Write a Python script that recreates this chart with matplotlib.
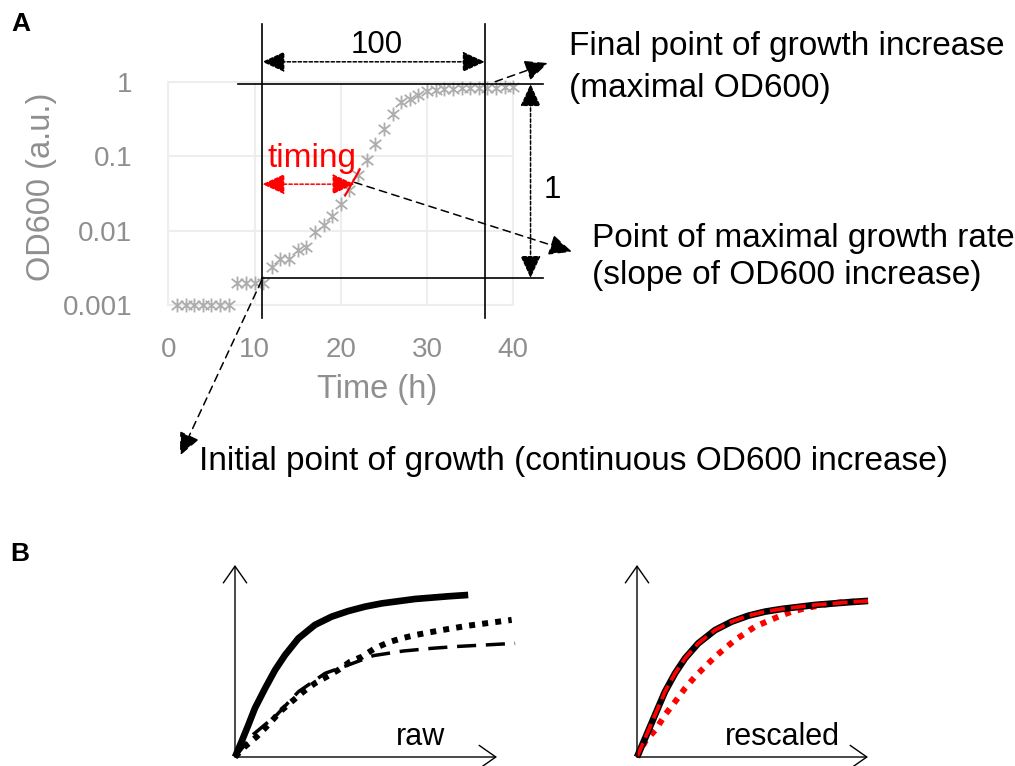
import matplotlib
matplotlib.use("Agg")
import matplotlib.pyplot as plt
from matplotlib.path import Path

plt.rcParams['font.family'] = ['Liberation Sans', 'DejaVu Sans']

W, H = 1015, 766

# panel A: OD600 growth curve
hours = list(range(1, 41))
od600 = [0.001, 0.001, 0.001, 0.001, 0.001, 0.001, 0.001,
         0.002, 0.002, 0.002, 0.002,
         0.0032, 0.0042, 0.0042, 0.0054, 0.006, 0.0095, 0.0117, 0.0158, 0.023,
         0.035, 0.056, 0.088, 0.145, 0.23, 0.37, 0.54, 0.58, 0.66, 0.76,
         0.78, 0.80, 0.81, 0.82, 0.82, 0.83, 0.83, 0.83, 0.84, 0.84]
x_ticks = [0, 10, 20, 30, 40]
y_ticks = [0.001, 0.01, 0.1, 1]
y_tick_labels = ["0.001", "0.01", "0.1", "1"]

# key points of the curve
t_start, od_start = 10.9, 0.0023
t_end, od_end = 36.7, 0.93
t_max = 21.6

# panel B: schematic curves
raw_solid_x = [0, 0.25, 0.51, 0.76, 1.15, 1.53, 1.91, 2.42, 3.05, 3.69, 4.32, 4.96, 5.60, 6.87, 8.14, 8.90]
raw_solid_y = [0, 0.80, 1.67, 2.54, 3.58, 4.53, 5.31, 6.18, 6.88, 7.31, 7.60, 7.83, 8.00, 8.23, 8.37, 8.44]
raw_dot_x = [0, 0.38, 0.83, 1.27, 1.72, 2.16, 2.61, 3.05, 3.50, 3.94, 4.39, 4.84, 5.34, 5.85, 6.36, 6.87, 7.89, 8.90, 10.56]
raw_dot_y = [0, 0.54, 1.06, 1.67, 2.36, 2.88, 3.40, 3.84, 4.18, 4.53, 4.96, 5.22, 5.66, 5.97, 6.18, 6.35, 6.61, 6.84, 7.14]
raw_dash_x = [0, 0.70, 1.59, 2.42, 3.44, 4.32, 5.28, 6.42, 7.51, 8.52, 10.69]
raw_dash_y = [0, 1.18, 2.19, 3.40, 4.36, 4.79, 5.28, 5.52, 5.66, 5.76, 5.92]
res_solid_x = [0, 0.35, 0.78, 1.21, 1.65, 2.08, 2.65, 3.38, 4.10, 4.82, 5.54, 6.26, 7.71, 9.15, 10.0]
res_solid_y = [0, 0.97, 2.19, 3.40, 4.36, 5.14, 5.92, 6.61, 7.05, 7.36, 7.57, 7.71, 7.92, 8.06, 8.13]
res_dot_x = [0, 0.35, 0.85, 1.21, 1.65, 2.08, 2.51, 2.94, 3.38, 3.81, 4.24, 4.68, 5.11, 5.61, 6.12, 6.70, 7.27, 8.00, 8.86, 10.0]
res_dot_y = [0, 0.80, 1.49, 2.19, 2.88, 3.58, 4.18, 4.70, 5.22, 5.66, 6.09, 6.44, 6.79, 7.05, 7.31, 7.57, 7.74, 7.92, 8.06, 8.13]


def box(l, t, r, b):
    return [l / W, 1 - b / H, (r - l) / W, (b - t) / H]


def ftext(px, py, s, **kw):
    fig.text(px / W, 1 - py / H, s, **kw)


fig = plt.figure(figsize=(W / 100, H / 100), dpi=100)

# ---- panel A
ax = fig.add_axes(box(168.3, 81.7, 513.3, 305))
ax.set_yscale('log')
ax.set_xlim(0, 40)
ax.set_ylim(0.001, 1)
ax.set_xticks(x_ticks)
ax.set_yticks(y_ticks)
ax.set_yticklabels(y_tick_labels)
ax.minorticks_off()
ax.grid(True, color='#eeeeee', lw=1.5)
ax.set_axisbelow(True)
for s in ax.spines.values():
    s.set_color('#eeeeee')
    s.set_linewidth(1.5)
ax.tick_params(length=0, labelsize=20, labelcolor='#8f8f8f')
ax.tick_params(axis='y', pad=26)
ax.tick_params(axis='x', pad=23)

star = Path([(-1, -0.8), (1, 0.8), (-1, 0.8), (1, -0.8), (0, -1.2), (0, 1.2)],
            [Path.MOVETO, Path.LINETO] * 3)
ax.plot(hours, od600, ls='none', marker=star, ms=10, mew=1.3,
        mec='#adadad', mfc='none', clip_on=False, zorder=3)

ax.text(-0.368, 0.53, 'OD600 (a.u.)', transform=ax.transAxes, rotation=90,
        ha='center', va='center', fontsize=23.5, color='#8f8f8f')
ftext(377, 398, 'Time (h)', ha='center', va='baseline', fontsize=23.5, color='#8f8f8f')

line_kw = dict(color='k', lw=1.2, clip_on=False, zorder=4)
ax.plot([t_start, t_start], [5.9, 0.00066], **line_kw)
ax.plot([t_end, t_end], [5.9, 0.00066], **line_kw)
ax.plot([8.1, 43.4], [od_end, od_end], **line_kw)
ax.plot([t_start, 43.4], [od_start, od_start], **line_kw)


def arrow(p0, p1, style, ls, color='k', lw=1.1):
    ax.annotate('', xy=p1, xytext=p0, annotation_clip=False,
                arrowprops=dict(arrowstyle=style, ls=ls, lw=lw, color=color,
                                shrinkA=0, shrinkB=0, mutation_scale=20),
                zorder=5)


both = '<|-|>,head_length=0.7,head_width=0.32'
one = '-|>,head_length=0.7,head_width=0.32'
dotted = (0, (2.2, 1.4))
dashed = (0, (5, 3.5))

# lag-to-plateau span and OD range
arrow((t_end, 1.85), (t_start, 1.85), both, dotted)
arrow((42.0, od_start), (42.0, od_end), both, dotted)
# timing to maximal growth rate
arrow((t_max, 0.042), (t_start, 0.042), both, dotted, color='#ff0000')
ax.plot([20.5, 22.2], [0.0295, 0.0665], color='#ff0000', lw=1.5, clip_on=False, zorder=5)

# pointers to the three key points
arrow((t_max, 0.0444), (46.8, 0.0052), one, dashed)
arrow((37.9, 1.0), (44.0, 1.78), one, dashed)
arrow((10.83, 0.00215), (1.36, 9.5e-6), one, dashed)

ftext(377, 53, '100', ha='center', va='baseline', fontsize=22.5)
ftext(552, 198, '1', ha='center', va='baseline', fontsize=22.5)
ftext(312, 167, 'timing', ha='center', va='baseline', fontsize=24, color='#ff0000')
ftext(569, 55, 'Final point of growth increase', va='baseline', fontsize=24)
ftext(569, 97, '(maximal OD600)', va='baseline', fontsize=24)
ftext(592, 247, 'Point of maximal growth rate', va='baseline', fontsize=24)
ftext(592, 284, '(slope of OD600 increase)', va='baseline', fontsize=24)
ftext(199, 470, 'Initial point of growth (continuous OD600 increase)', va='baseline', fontsize=24)

ftext(21, 31, 'A', ha='center', va='baseline', fontsize=19, fontweight='bold')
ftext(20, 561, 'B', ha='center', va='baseline', fontsize=19, fontweight='bold')

# ---- panel B
def schematic_axes(l, r):
    b_ax = fig.add_axes(box(l, 565, r, 757))
    b_ax.set_xlim(0, 10)
    b_ax.set_ylim(0, 10)
    b_ax.axis('off')
    akw = dict(arrowstyle='->,head_length=0.6,head_width=0.42', lw=1, color='k',
               shrinkA=0, shrinkB=0, mutation_scale=20)
    b_ax.annotate('', xy=(0, 1), xytext=(0, 0), xycoords='axes fraction', arrowprops=akw)
    b_ax.annotate('', xy=(1, 0), xytext=(0, 0), xycoords='axes fraction', arrowprops=akw)
    return b_ax


axr = schematic_axes(235, 497)
axr.plot(raw_solid_x, raw_solid_y, color='k', lw=4.8, solid_capstyle='butt',
         solid_joinstyle='round', clip_on=False)
axr.plot(raw_dot_x, raw_dot_y, color='k', lw=4.3, ls=(0, (1, 1.2)), dash_capstyle='butt', clip_on=False)
axr.plot(raw_dash_x, raw_dash_y, color='k', lw=2.5, ls=(0, (5.5, 2.8)), clip_on=False)
ftext(420, 745, 'raw', ha='center', va='baseline', fontsize=22)

axs = schematic_axes(637, 868)
axs.plot(res_dot_x, res_dot_y, color='#ff0000', lw=4.3, ls=(0, (1, 1.2)), dash_capstyle='butt', clip_on=False)
axs.plot(res_solid_x, res_solid_y, color='k', lw=4.8, solid_capstyle='butt',
         solid_joinstyle='round', clip_on=False)
axs.plot(res_solid_x, res_solid_y, color='#ff0000', lw=2.7, ls=(0, (4, 1.6)), clip_on=False)
ftext(782, 745, 'rescaled', ha='center', va='baseline', fontsize=22)

fig.savefig('out.png', dpi=100)
